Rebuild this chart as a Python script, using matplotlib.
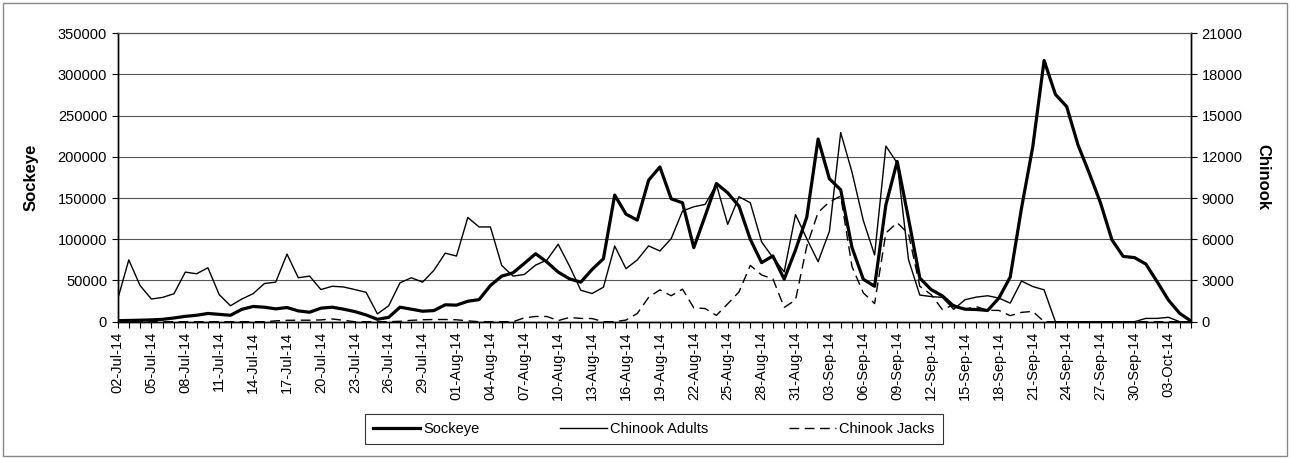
import matplotlib
matplotlib.use("Agg")
import matplotlib.pyplot as plt
import matplotlib.dates as mdates
from matplotlib.patches import Rectangle
import pandas as pd

plt.rcParams['font.family'] = ['Liberation Sans', 'DejaVu Sans']

# =========================================================
# DATA (daily counts, 02-Jul-14 .. 05-Oct-14)
# =========================================================

dates = pd.date_range('2014-07-02', periods=96, freq='D')

sockeye = [
    1200, 1500, 1800, 2200, 2900, 4500, 6500, 7800, 10000, 8900,
    7800, 15000, 18500, 17600, 15600, 17200, 13100, 11500, 16400, 17600,
    15200, 12300, 8200, 2900, 5300, 17600, 15200, 12700, 13500, 20500,
    20100, 24800, 26800, 43900, 55300, 59300, 70700, 82500, 72400, 60200,
    52000, 48000, 63400, 76400, 153700, 130500, 123300, 171700, 187800, 149100,
    144300, 89900, 128200, 167700, 156400, 140200, 99900, 71700, 79800, 51600,
    87000, 127000, 221700, 173500, 160000, 90000, 51500, 43000, 142000, 194500,
    125000, 53000, 39000, 31300, 19000, 15200, 14800, 13600, 28700, 54100,
    137800, 212500, 317000, 275900, 261000, 214500, 180200, 143800, 99400, 79200,
    77800, 70000, 48600, 26300, 10100, 800,
]

chinook_adults = [
    1600, 4500, 2630, 1650, 1770, 2040, 3610, 3490, 3930, 1970,
    1160, 1650, 2040, 2780, 2880, 4920, 3200, 3320, 2340, 2580,
    2530, 2340, 2140, 570, 1160, 2830, 3200, 2880, 3740, 4990,
    4780, 7590, 6900, 6900, 4100, 3320, 3440, 4120, 4490, 5640,
    4050, 2290, 2050, 2510, 5510, 3860, 4500, 5520, 5150, 6050,
    8060, 8370, 8540, 9990, 7090, 9100, 8660, 5810, 4670, 3630,
    7800, 6040, 4370, 6580, 13770, 10890, 7370, 4860, 12790, 11550,
    4520, 1940, 1830, 1770, 900, 1600, 1790, 1890, 1720, 1350,
    2960, 2560, 2320, 0, 0, 0, 0, 0, 0, 0,
    0, 240, 240, 320, 0, 0,
]

chinook_jacks = [
    0, 0, 0, 0, 0, 0, 0, 0, 0, 0,
    0, 0, 0, 0, 60, 100, 110, 110, 130, 200,
    100, 0, 0, 0, 0, 30, 100, 140, 160, 160,
    140, 60, 0, 0, 0, 0, 280, 380, 380, 80,
    310, 240, 230, 0, 0, 120, 600, 1770, 2320, 1890,
    2370, 1010, 960, 460, 1300, 2170, 4100, 3400, 3120, 1040,
    1580, 5500, 7960, 8720, 9150, 4010, 2100, 1320, 6460, 7210,
    6400, 2580, 1980, 880, 1240, 910, 1100, 830, 820, 440,
    680, 750, 0, 0, 0, 0, 0, 0, 0, 0,
    0, 0, 0, 0, 0, 0,
]

sockeye_ticks = list(range(0, 350001, 50000))
chinook_ticks = list(range(0, 21001, 3000))

# =========================================================
# FIGURE
# =========================================================

W, H = 1291, 458
fig = plt.figure(figsize=(W / 100, H / 100), dpi=100)
ax = fig.add_axes([117.5 / W, 1 - 321.7 / H, (1191 - 117.5) / W, (321.7 - 33.3) / H])

ax.plot(dates, sockeye, color='black', lw=2.3, label='Sockeye', zorder=3)
ax.set_ylim(0, 350000)
ax.set_yticks(sockeye_ticks)
ax.grid(axis='y', color='#555555', lw=0.8)
ax.set_axisbelow(True)

ax2 = ax.twinx()
ax2.plot(dates, chinook_adults, color='black', lw=1.0, label='Chinook Adults')
ax2.plot(dates, chinook_jacks, color='black', lw=1.0, ls=(0, (7, 4)),
         label='Chinook Jacks')
ax2.set_ylim(0, 21000)
ax2.set_yticks(chinook_ticks)

ax.set_xlim(dates[0], dates[-1])
ax.set_xticks(dates[::3])
ax.set_xticks(dates, minor=True)
ax.xaxis.set_major_formatter(mdates.DateFormatter('%d-%b-%y'))

ax.tick_params(axis='x', which='both', direction='out', length=4, width=0.8,
               labelrotation=90, labelsize=10.5, pad=3)
ax.tick_params(axis='y', direction='out', length=4, width=0.8, labelsize=10.5)
ax2.tick_params(axis='y', direction='out', length=4, width=0.8, labelsize=10.5)

for a in (ax, ax2):
    a.spines['top'].set_color('#555555')
    a.spines['top'].set_linewidth(0.8)
    a.spines['left'].set_linewidth(1.0)
    a.spines['right'].set_linewidth(1.0)
    a.spines['bottom'].set_linewidth(1.0)

ax.set_ylabel('Sockeye', fontsize=12, fontweight='bold', labelpad=14)
ax2.set_ylabel('Chinook', fontsize=12, fontweight='bold', rotation=270,
               va='bottom', labelpad=9)

# legend below the plot
h1, l1 = ax.get_legend_handles_labels()
h2, l2 = ax2.get_legend_handles_labels()
leg = fig.legend(h1 + h2, l1 + l2, loc='center', bbox_to_anchor=(0.5066, 0.063),
                 ncol=3, fontsize=10.5, frameon=True, fancybox=False,
                 edgecolor='black', handlelength=3.2, handletextpad=0.25,
                 columnspacing=5.5, borderpad=0.55, borderaxespad=0)
leg.get_frame().set_linewidth(0.8)

# chart area border
fig.patches.append(Rectangle((0.002, 0.004), 0.995, 0.99, transform=fig.transFigure,
                             fill=False, edgecolor='#888888', lw=1))

fig.savefig('out.png', dpi=100)
